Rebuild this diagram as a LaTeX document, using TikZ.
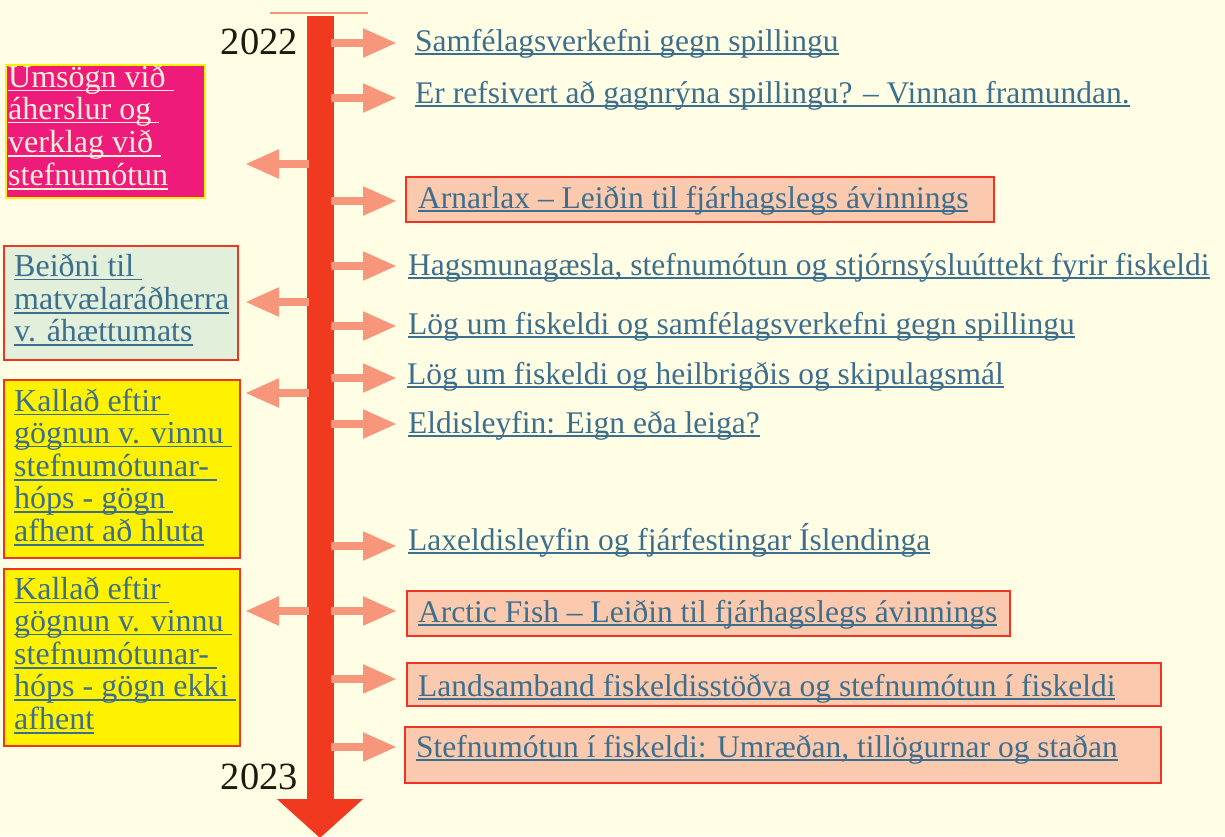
\documentclass[tikz,border=0pt]{standalone}
\usepackage{fontspec}
\setmainfont{Liberation Serif}
\usetikzlibrary{arrows.meta}
\definecolor{bg}{HTML}{FFFDE4}
\definecolor{barred}{HTML}{F0391F}
\definecolor{salmon}{HTML}{F7967B}
\definecolor{boxfill}{HTML}{FBC9AD}
\definecolor{boxline}{HTML}{EE3524}
\definecolor{pinkfill}{HTML}{EE1B7B}
\definecolor{yel}{HTML}{FFF200}
\definecolor{greenfill}{HTML}{E2F0DB}
\definecolor{txtblue}{HTML}{3C6E8E}
\definecolor{cream}{HTML}{FFF0D8}
\definecolor{yeartxt}{HTML}{1E1B0C}
\newcommand\ulx[1]{\leavevmode\setbox0\hbox{#1}\rlap{\rule[-4pt]{\wd0}{1.6pt}}\box0}
\tikzset{
  rt/.style={anchor=base west, inner sep=0pt, text=txtblue, font=\fontsize{31.5}{36}\selectfont},
  lt/.style={anchor=north west, inner sep=0pt, align=left, text=txtblue, font=\fontsize{32}{32}\selectfont},
  arr/.style={draw=salmon, line width=8pt, -{Triangle[length=34pt,width=27pt]}},
  rbox/.style={draw=boxline, fill=boxfill, line width=2pt},
  lbox/.style={draw=boxline, line width=2pt},
  yr/.style={anchor=base east, inner sep=0pt, text=yeartxt, font=\fontsize{38.5}{40}\selectfont}
}
\begin{document}
\begin{tikzpicture}[x=1pt,y=-1pt]
\useasboundingbox[fill=bg] (0,0) rectangle (1225,836);
% timeline
\draw[salmon, line width=2pt] (270,13) -- (368,13);
\coordinate (bartop) at (320,16);
\coordinate (barend) at (320,838);
\draw[barred, line width=27pt, -{Triangle[length=39pt,width=84pt]}] (bartop) -- (barend);
\coordinate (barR) at (331,0);
\coordinate (barL) at (309,0);
\node[yr] (y22) at (298,54) {2022};
\node[yr] (y23) at (298,789) {2023};
% right boxes
\draw[rbox] (406,177) rectangle (994,222);
\draw[rbox] (407,591) rectangle (1010,636);
\draw[rbox] (407,663) rectangle (1161,706);
\draw[rbox] (405,727) rectangle (1161,783);
% right texts
\node[rt] (t1) at (415,51) {\ulx{Samfélagsverkefni gegn spillingu}};
\node[rt] (t2) at (415,103) {\ulx{Er refsivert að gagnrýna spillingu? – Vinnan framundan.}};
\node[rt] (t3) at (418,208) {\ulx{Arnarlax – Leiðin til fjárhagslegs ávinnings}};
\node[rt] (t4) at (408,275) {\ulx{Hagsmunagæsla, stefnumótun og stjórnsýsluúttekt fyrir fiskeldi}};
\node[rt] (t5) at (408,334) {\ulx{Lög um fiskeldi og samfélagsverkefni gegn spillingu}};
\node[rt] (t6) at (407,384) {\ulx{Lög um fiskeldi og heilbrigðis og skipulagsmál}};
\node[rt] (t7) at (408,433) {\ulx{Eldisleyfin: Eign eða leiga?}};
\node[rt] (t8) at (408,550) {\ulx{Laxeldisleyfin og fjárfestingar Íslendinga}};
\node[rt] (t9) at (418,622) {\ulx{Arctic Fish – Leiðin til fjárhagslegs ávinnings}};
\node[rt] (t10) at (418,696) {\ulx{Landsamband fiskeldisstöðva og stefnumótun í fiskeldi}};
\node[rt] (t11) at (416,757) {\ulx{Stefnumótun í fiskeldi: Umræðan, tillögurnar og staðan}};
% right arrows
\foreach \i/\yy in {1/43,2/98,3/201,4/266,5/326,6/378,7/424,8/546,9/611,10/679,11/747}{
  \coordinate (ra\i) at (397,\yy);
  \draw[arr] (barR |- ra\i) -- (ra\i);
}
% left boxes
\draw[fill=pinkfill, draw=yel, line width=2pt] (6,65) rectangle (205,198);
\draw[lbox, fill=greenfill] (4,246) rectangle (238,360);
\draw[lbox, fill=yel] (4,380) rectangle (240,558);
\draw[lbox, fill=yel] (4,569) rectangle (240,746);
\node[lt, text=cream] (l1) at (8,64.6) {\strut\ulx{Umsögn við }\\\strut\ulx{áherslur og }\\\strut\ulx{verklag við }\\\strut\ulx{stefnumótun}};
\node[lt] (l2) at (14,253.6) {\strut\ulx{Beiðni til }\\\strut\ulx{matvælaráðherra}\\\strut\ulx{v. áhættumats}};
\node[lt] (l3) at (14,388.6) {\strut\ulx{Kallað eftir }\\\strut\ulx{gögnun v. vinnu }\\\strut\ulx{stefnumótunar- }\\\strut\ulx{hóps - gögn }\\\strut\ulx{afhent að hluta}};
\node[lt] (l4) at (14,576.6) {\strut\ulx{Kallað eftir }\\\strut\ulx{gögnun v. vinnu }\\\strut\ulx{stefnumótunar- }\\\strut\ulx{hóps - gögn ekki }\\\strut\ulx{afhent}};
% left arrows
\foreach \i/\yy in {1/164,2/302,3/393,4/611}{
  \coordinate (la\i) at (245,\yy);
  \draw[arr] (barL |- la\i) -- (la\i);
}
\end{tikzpicture}
\end{document}
